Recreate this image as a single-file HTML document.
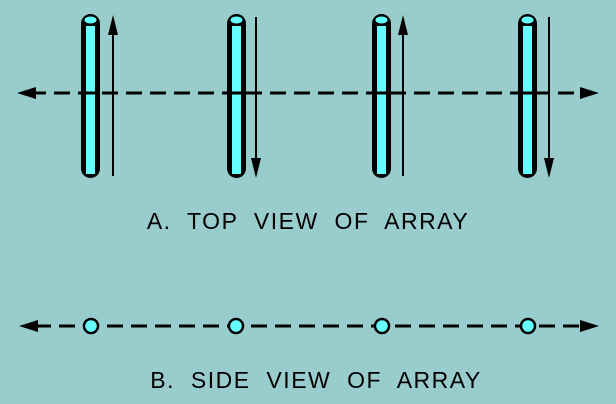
<!DOCTYPE html>
<html><head><style>
html,body{margin:0;padding:0;background:#99CCCC;}
svg{display:block}
text{font-family:"Liberation Sans",sans-serif;font-size:23px;fill:#000;letter-spacing:1.5px;word-spacing:8px}
</style></head><body>
<svg width="616" height="404" viewBox="0 0 616 404" xmlns="http://www.w3.org/2000/svg">
<rect width="616" height="404" fill="#99CCCC"/>
<line x1="30" y1="93" x2="586" y2="93" stroke="#000" stroke-width="3" stroke-dasharray="16,8"/>
<polygon points="17,93 36,87 36,99" fill="#000"/>
<polygon points="599,93 580,87 580,99" fill="#000"/>
<g>
<rect x="81" y="14" width="19" height="164" rx="9.5" fill="#000"/>
<rect x="86" y="26" width="9" height="148" fill="#66FFFF"/>
<ellipse cx="90.5" cy="20" rx="6" ry="3.5" fill="#66FFFF"/>
</g>
<g transform="translate(146,0)">
<rect x="81" y="14" width="19" height="164" rx="9.5" fill="#000"/>
<rect x="86" y="26" width="9" height="148" fill="#66FFFF"/>
<ellipse cx="90.5" cy="20" rx="6" ry="3.5" fill="#66FFFF"/>
</g>
<g transform="translate(291,0)">
<rect x="81" y="14" width="19" height="164" rx="9.5" fill="#000"/>
<rect x="86" y="26" width="9" height="148" fill="#66FFFF"/>
<ellipse cx="90.5" cy="20" rx="6" ry="3.5" fill="#66FFFF"/>
</g>
<g transform="translate(437,0)">
<rect x="81" y="14" width="19" height="164" rx="9.5" fill="#000"/>
<rect x="86" y="26" width="9" height="148" fill="#66FFFF"/>
<ellipse cx="90.5" cy="20" rx="6" ry="3.5" fill="#66FFFF"/>
</g>
<line x1="83" y1="93" x2="99" y2="93" stroke="#000" stroke-width="3"/>
<line x1="229" y1="93" x2="245" y2="93" stroke="#000" stroke-width="3"/>
<line x1="374" y1="93" x2="390" y2="93" stroke="#000" stroke-width="3"/>
<line x1="520" y1="93" x2="536" y2="93" stroke="#000" stroke-width="3"/>
<line x1="113" y1="30" x2="113" y2="176" stroke="#000" stroke-width="2"/>
<polygon points="113,15 108,35 118,35" fill="#000"/>
<line x1="256" y1="17" x2="256" y2="162" stroke="#000" stroke-width="2"/>
<polygon points="256,178 251,158 261,158" fill="#000"/>
<line x1="403" y1="30" x2="403" y2="176" stroke="#000" stroke-width="2"/>
<polygon points="403,15 398,35 408,35" fill="#000"/>
<line x1="549" y1="17" x2="549" y2="162" stroke="#000" stroke-width="2"/>
<polygon points="549,178 544,158 554,158" fill="#000"/>
<text x="308" y="229" text-anchor="middle">A.  TOP  VIEW  OF  ARRAY</text>
<line x1="35" y1="326" x2="584" y2="326" stroke="#000" stroke-width="3" stroke-dasharray="16,8"/>
<polygon points="19,326 38,320 38,332" fill="#000"/>
<polygon points="599,326 580,320 580,332" fill="#000"/>
<g fill="#66FFFF" stroke="#000" stroke-width="2.5">
<circle cx="91" cy="326" r="7"/>
<circle cx="236" cy="326" r="7"/>
<circle cx="382" cy="326" r="7"/>
<circle cx="528" cy="326" r="7"/>
</g>
<text x="316" y="388" text-anchor="middle">B.  SIDE  VIEW  OF  ARRAY</text>
</svg>
</body></html>
